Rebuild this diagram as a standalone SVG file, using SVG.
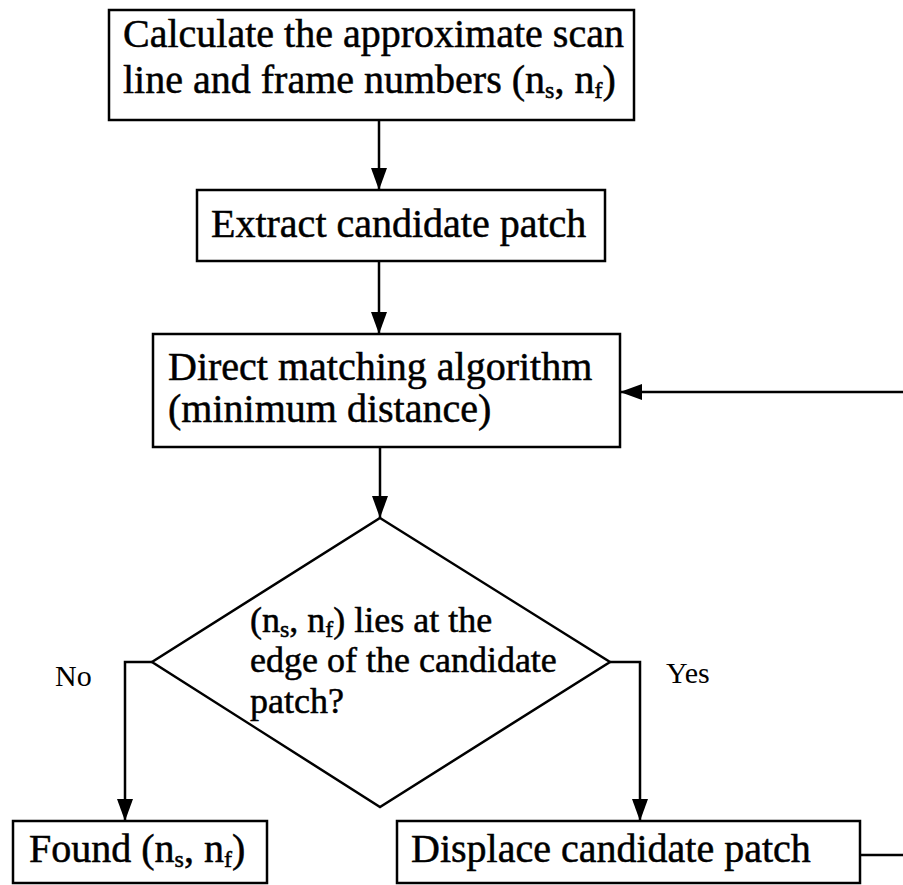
<svg xmlns="http://www.w3.org/2000/svg" width="903" height="885" viewBox="0 0 903 885">
<style>
.box{fill:#fff;stroke:#000;stroke-width:2.5}
.t{font-family:"Liberation Serif","Times New Roman",serif;font-size:40px;fill:#000;stroke:#000;stroke-width:0.5}
.d{font-size:36px}
.lbl{font-family:"Liberation Serif","Times New Roman",serif;font-size:30px;fill:#000}
.sub{font-size:24px}
.c{fill:none;stroke:#000;stroke-width:2.5}
</style>
<defs>
<marker id="ah" viewBox="0 0 22 16" refX="22" refY="8" markerWidth="22" markerHeight="16" markerUnits="userSpaceOnUse" orient="auto">
<path d="M0,0 L22,8 L0,16 z" fill="#000"/>
</marker>
</defs>
<rect width="903" height="885" fill="#fff"/>
<g id="connectors">
<line class="c" x1="379" y1="120" x2="379" y2="190" marker-end="url(#ah)"/>
<line class="c" x1="379" y1="261" x2="379" y2="334" marker-end="url(#ah)"/>
<line class="c" x1="380" y1="447" x2="380" y2="518" marker-end="url(#ah)"/>
<polyline class="c" points="152,662 125,662 125,821" marker-end="url(#ah)"/>
<polyline class="c" points="610,662 640,662 640,821" marker-end="url(#ah)"/>
<polyline class="c" points="860,855 906,855 906,392 620,392" marker-end="url(#ah)"/>
</g>
<g id="n1">
<rect class="box" x="109" y="10" width="525" height="110"/>
<text class="t" x="123" y="47">Calculate the approximate scan</text>
<text class="t" x="123" y="93">line and frame numbers (n<tspan class="sub" dy="5">s</tspan><tspan dy="-5">, n</tspan><tspan class="sub" dy="5">f</tspan><tspan dy="-5">)</tspan></text>
</g>
<g id="n2">
<rect class="box" x="197" y="190" width="408" height="71"/>
<text class="t" x="211" y="237">Extract candidate patch</text>
</g>
<g id="n3">
<rect class="box" x="153" y="334" width="467" height="113"/>
<text class="t" x="168" y="380">Direct matching algorithm</text>
<text class="t" x="168" y="422">(minimum distance)</text>
</g>
<g id="n4">
<polygon class="box" points="380,518 610,662 380,807 152,662"/>
<text class="t d" x="250" y="632">(n<tspan class="sub" dy="5">s</tspan><tspan dy="-5">, n</tspan><tspan class="sub" dy="5">f</tspan><tspan dy="-5">) lies at the</tspan></text>
<text class="t d" x="250" y="672">edge of the candidate</text>
<text class="t d" x="250" y="713">patch?</text>
</g>
<g id="n5">
<rect class="box" x="13" y="821" width="254" height="62"/>
<text class="t" x="29" y="862">Found (n<tspan class="sub" dy="5">s</tspan><tspan dy="-5">, n</tspan><tspan class="sub" dy="5">f</tspan><tspan dy="-5">)</tspan></text>
</g>
<g id="n6">
<rect class="box" x="397" y="821" width="463" height="62"/>
<text class="t" x="411" y="862">Displace candidate patch</text>
</g>
<g id="labels">
<text class="lbl" x="55" y="686">No</text>
<text class="lbl" x="666" y="683">Yes</text>
</g>
</svg>
